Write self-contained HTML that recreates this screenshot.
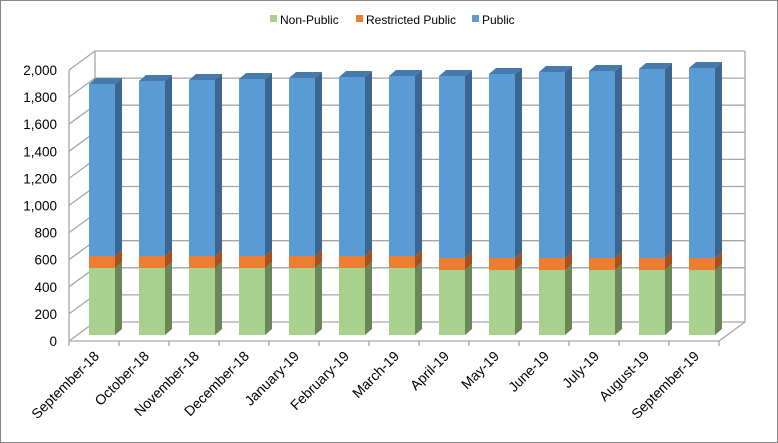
<!DOCTYPE html>
<html><head><meta charset="utf-8"><style>
body{margin:0;background:#fff}
svg{display:block;font-family:"Liberation Sans",Arial,sans-serif}
</style></head><body>
<svg width="778" height="443" viewBox="0 0 778 443" xmlns="http://www.w3.org/2000/svg">
<rect x="0.5" y="0.5" width="777" height="442" fill="#fff" stroke="#868686"/>
<g font-size="12" fill="#000">
<rect x="270" y="15" width="7" height="7" fill="#a9d18e"/><text x="280" y="24">Non-Public</text>
<rect x="356" y="15" width="7" height="7" fill="#ed7d31"/><text x="366" y="24">Restricted Public</text>
<rect x="472" y="15" width="7" height="7" fill="#5b9bd5"/><text x="482" y="24">Public</text>
</g>
<g id="grid" stroke="#a6a6a6" stroke-width="1.3" fill="none"></g>
<g id="bars"></g>
<g id="ylab" font-size="13.5" fill="#000" text-anchor="end"></g>
<g id="xlab" font-size="14" fill="#000" text-anchor="end"></g>
<script>
var ns="http://www.w3.org/2000/svg";
function el(p,t,a,txt){var e=document.createElementNS(ns,t);for(var k in a)e.setAttribute(k,a[k]);if(txt)e.textContent=txt;document.getElementById(p).appendChild(e);}
var x0=69,y0=341,sc=271/2000,dx=26,dy=-19,xr=719;
for(var i=0;i<=10;i++){var y=y0-i*200*sc;
 el("grid","path",{d:"M"+x0+" "+y+"L"+(x0+dx)+" "+(y+dy)+"L"+(xr+dx)+" "+(y+dy)});
 el("ylab","text",{x:57,y:y+5},(i*200).toLocaleString("en-US"));}
el("grid","path",{d:"M"+(x0+dx)+" "+(y0+dy)+"L"+(x0+dx)+" "+(y0-271+dy)});
el("grid","path",{d:"M"+(xr+dx)+" "+(y0+dy)+"L"+(xr+dx)+" "+(y0-271+dy)});
el("grid","path",{d:"M"+x0+" "+y0+"L"+xr+" "+y0+"L"+(xr+dx)+" "+(y0+dy)});
el("grid","path",{d:"M"+x0+" "+(y0-271)+"L"+x0+" "+y0});
for(var i=0;i<=13;i++){var x=x0+i*50;el("grid","path",{d:"M"+x+" "+y0+"L"+x+" "+(y0+5)});}
var tops=[84,81,80,79,78,77,76,76,74,72,71,69,68];
var labs=["September-18","October-18","November-18","December-18","January-19","February-19","March-19","April-19","May-19","June-19","July-19","August-19","September-19"];
var bx=7,by=-6,base=335;
function seg(x,yt,yb,f,s,t){
 el("bars","rect",{x:x,y:yt,width:26,height:yb-yt,fill:f});
 el("bars","path",{d:"M"+(x+26)+" "+yt+"l"+bx+" "+by+"L"+(x+26+bx)+" "+(yb+by)+"L"+(x+26)+" "+yb+"Z",fill:s});
 if(t)el("bars","path",{d:"M"+x+" "+yt+"l"+bx+" "+by+"h26l"+(-bx)+" "+(-by)+"Z",fill:t});
}
for(var i=0;i<13;i++){var x=89+i*50;var g=i<7?268:270,o=i<7?256:258;
 seg(x,g,base,"#a9d18e","#6b8759");
 seg(x,o,g,"#ed7d31","#a5521f");
 seg(x,tops[i],o,"#5b9bd5","#3a6690","#4679ac");
 var cx=x+13;
 el("xlab","text",{x:cx-2,y:357,transform:"rotate(-45 "+(cx-2)+" 357)"},labs[i]);
}
</script>
</svg>
</body></html>
